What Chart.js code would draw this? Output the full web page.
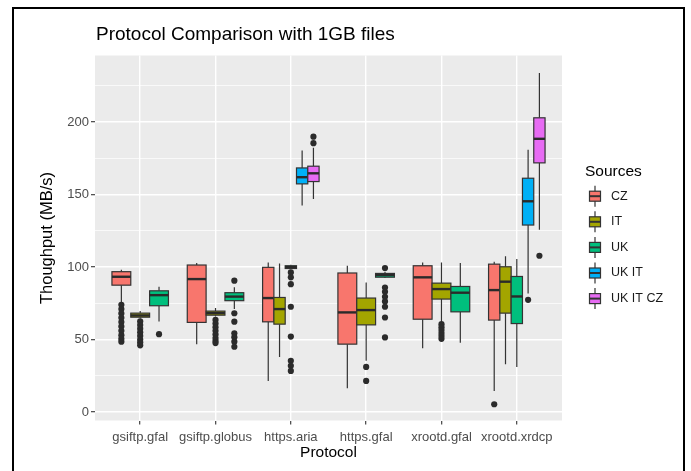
<!DOCTYPE html>
<html><head><meta charset="utf-8">
<script src="https://cdn.jsdelivr.net/npm/chart.js@4.4.0/dist/chart.umd.min.js"></script>
<style>html,body{margin:0;padding:0;background:#fff;}#wrap{position:relative;width:691px;height:471px;}</style>
</head><body><div id="wrap"><canvas id="c" width="691" height="471"></canvas></div>
<script>
// ---------- data ----------
const protocols = ['gsiftp.gfal', 'gsiftp.globus', 'https.aria', 'https.gfal', 'xrootd.gfal', 'xrootd.xrdcp'];
const sources = ['CZ', 'IT', 'UK', 'UK IT', 'UK IT CZ'];
const yTickLabels = [0, 50, 100, 150, 200];
// five-number summaries per protocol: [lower whisker, q1, median, q3, upper whisker]; null = no data
const statsCZ = [[75, 87.5, 93.3, 96.8, 98.2], [46.8, 61.8, 91.7, 101.4, 102.8], [21.4, 62.2, 78.6, 99.8, 103.2], [16.4, 46.8, 68.7, 95.9, 100.9], [44, 64, 92.9, 100.9, 103.2], [14.5, 63.4, 84.1, 102, 103.7]];
const statsIT = [[64.5, 65.4, 66.6, 68.2, 69.7], [65.8, 66.8, 68.2, 69.6, 71.7], [38, 60.6, 71, 79, 102.5], [35.3, 60.1, 70.3, 78.6, 89.4], [61.8, 77.9, 84.8, 88.9, 103.2], [33, 68.2, 89.9, 100.2, 107.4]];
const statsUK = [[62.4, 73.3, 80.6, 83.6, 86.4], [71, 76.8, 79.6, 82.3, 86], [98.4, 99, 100, 100.9, 101.6], [92.5, 93, 94.5, 95.6, 96.5], [47.7, 69.1, 82.3, 86.6, 102.8], [31.1, 61, 79.7, 93.5, 105.5]];
const statsUKIT = [null, null, [142.4, 157.4, 162, 168.4, 180.4], null, null, [81.8, 129, 145.4, 161.3, 180.9]];
const statsUKITCZ = [null, null, [147, 159, 164.7, 169.6, 182.3], null, null, [125.8, 171.9, 188.5, 203, 233.9]];
// outliers per protocol
const outCZ = [[74, 71, 68, 65, 62, 59, 56, 53, 50.5, 48.5], [], [], [], [], [5.3]];
const outIT = [[62.5, 60, 57.5, 55, 52.5, 50, 48, 46], [63.5, 61, 58.5, 56, 53.5, 51, 49, 47.5], [], [31.1, 21.4], [60.6, 58.5, 56.5, 54.5, 52.5, 50.5], []];
const outUK = [[53.7], [90.6, 68.1, 62.3, 54.3, 51.6, 48.5, 45], [96.3, 92.9, 88.2, 72.6, 52, 35.3, 31.8, 28.3], [99.3, 85.9, 82.9, 79.5, 76.3, 72.6, 65.2, 51.4], [], []];
const outUKIT = [[], [], [], [], [], [77.4]];
const outUKITCZ = [[], [], [190, 185.5], [], [], [107.8]];

// ---------- styling ----------
const allStats = [statsCZ, statsIT, statsUK, statsUKIT, statsUKITCZ];
const allOut = [outCZ, outIT, outUK, outUKIT, outUKITCZ];
const fills = ['#F8766D', '#A3A500', '#00BF7D', '#00B0F6', '#E76BF3'];
const FONT = '"Liberation Sans", Arial, Helvetica, sans-serif';
const DODGE = 0.75;

function slot(i, s) {
  const present = allStats.map((st, k) => st[i] ? k : -1).filter(k => k >= 0);
  const n = present.length, w = DODGE / n, k = present.indexOf(s);
  return { c: i - DODGE / 2 + w * (k + 0.5), w: w };
}

const outlierSets = sources.map((name, s) => ({
  label: name,
  data: allOut[s].flatMap((vals, i) => vals.map(v => ({ x: slot(i, s).c, y: v }))),
  pointRadius: 3.1, pointBackgroundColor: '#2B2B2B', pointBorderWidth: 0, showLine: false
}));

const boxPlugin = {
  id: 'boxes',
  beforeDraw(chart) {
    const { ctx, chartArea: a } = chart;
    ctx.save(); ctx.fillStyle = '#FFFFFF'; ctx.fillRect(0, 0, chart.width, chart.height);
    ctx.fillStyle = '#EBEBEB'; ctx.fillRect(a.left, a.top, a.right - a.left, a.bottom - a.top); ctx.restore();
  },
  beforeDatasetsDraw(chart) {
    const { ctx } = chart, xs = chart.scales.x, ys = chart.scales.y;
    ctx.save();
    allStats.forEach((st, s) => {
      st.forEach((q, i) => {
        if (!q) return;
        const sl = slot(i, s);
        const xc = xs.getPixelForValue(sl.c), x0 = xs.getPixelForValue(sl.c - sl.w / 2), x1 = xs.getPixelForValue(sl.c + sl.w / 2);
        const [lo, q1, md, q3, hi] = q.map(v => ys.getPixelForValue(v));
        ctx.strokeStyle = '#333333'; ctx.lineWidth = 1.2;
        ctx.beginPath(); ctx.moveTo(xc, lo); ctx.lineTo(xc, q1); ctx.moveTo(xc, q3); ctx.lineTo(xc, hi); ctx.stroke();
        ctx.fillStyle = fills[s];
        ctx.fillRect(x0, q3, x1 - x0, q1 - q3);
        ctx.strokeRect(x0, q3, x1 - x0, q1 - q3);
        ctx.strokeStyle = '#2A2A2A';
        ctx.lineWidth = 2.4; ctx.beginPath(); ctx.moveTo(x0, md); ctx.lineTo(x1, md); ctx.stroke();
      });
    });
    ctx.restore();
  },
  afterDraw(chart) {
    const { ctx, chartArea: a } = chart;
    ctx.save();
    ctx.fillStyle = '#000000'; ctx.textBaseline = 'middle';
    ctx.font = '19px ' + FONT; ctx.textAlign = 'left';
    ctx.fillText('Protocol Comparison with 1GB files', a.left + 1, 35);
    ctx.font = '15.5px ' + FONT; ctx.textAlign = 'center';
    ctx.fillText('Protocol', (a.left + a.right) / 2, 453);
    ctx.save(); ctx.translate(47, (a.top + a.bottom) / 2); ctx.rotate(-Math.PI / 2);
    ctx.font = '16.5px ' + FONT; ctx.fillText('Thoughput (MB/s)', 0, 0); ctx.restore();
    // legend
    ctx.textAlign = 'left'; ctx.font = '15.5px ' + FONT;
    ctx.fillText('Sources', 585, 171.5);
    ctx.font = '12.5px ' + FONT;
    sources.forEach((name, s) => {
      const cy = 196.2 + s * 25.6, kx = 589.5, kw = 11;
      ctx.strokeStyle = '#333333'; ctx.lineWidth = 1.2;
      ctx.beginPath(); ctx.moveTo(kx + kw / 2, cy - 10.5); ctx.lineTo(kx + kw / 2, cy + 10.5); ctx.stroke();
      ctx.fillStyle = fills[s]; ctx.fillRect(kx, cy - 5, kw, 10); ctx.strokeRect(kx, cy - 5, kw, 10);
      ctx.lineWidth = 2; ctx.beginPath(); ctx.moveTo(kx, cy); ctx.lineTo(kx + kw, cy); ctx.stroke();
      ctx.fillStyle = '#1A1A1A'; ctx.fillText(name, 611, cy);
    });
    // frame
    ctx.fillStyle = '#000000';
    ctx.fillRect(12, 7, 2, 471); ctx.fillRect(12, 7, 673, 2); ctx.fillRect(683, 7, 2, 471);
    ctx.restore();
  }
};

new Chart(document.getElementById('c'), {
  type: 'scatter',
  data: { datasets: outlierSets },
  plugins: [boxPlugin],
  options: {
    responsive: false, animation: false, devicePixelRatio: 1,
    layout: { padding: { left: 14, right: 129, top: 55.5, bottom: 20.5 } },
    plugins: { legend: { display: false }, tooltip: { enabled: false }, title: { display: false } },
    scales: {
      x: {
        type: 'linear', min: -0.6, max: 5.6,
        afterFit(s) { s.height = 30; },
        ticks: { stepSize: 1, includeBounds: false, autoSkip: false, maxRotation: 0, color: '#4D4D4D', font: { family: FONT, size: 13 }, padding: 5,
          callback: v => (Number.isInteger(v) && protocols[v]) ? protocols[v] : '' },
        grid: { color: '#FFFFFF', lineWidth: 1.4, tickColor: '#333333', tickLength: 4, tickWidth: 1.1 },
        border: { display: false }
      },
      y: {
        type: 'linear', min: -5.9, max: 246,
        afterFit(s) { s.width = 81; },
        ticks: { stepSize: 25, includeBounds: false, color: '#4D4D4D', font: { family: FONT, size: 13 }, padding: 2,
          callback: v => yTickLabels.includes(v) ? String(v) : '' },
        grid: { color: '#FFFFFF', lineWidth: c => (c.tick && yTickLabels.includes(c.tick.value)) ? 1.4 : 0.7,
          tickColor: c => (c.tick && yTickLabels.includes(c.tick.value)) ? '#333333' : 'rgba(0,0,0,0)', tickLength: 4, tickWidth: 1.1 },
        border: { display: false }
      }
    }
  }
});
</script></body></html>
